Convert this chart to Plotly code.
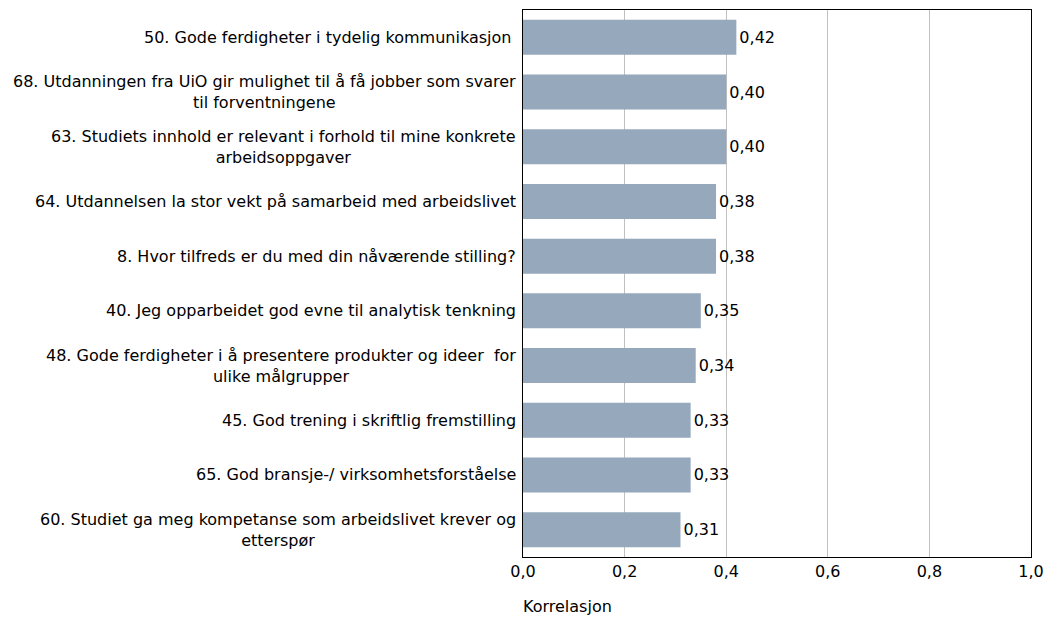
import plotly.graph_objects as go

# Survey items and their correlation coefficients
items = [
    "50. Gode ferdigheter i tydelig kommunikasjon\u00a0",
    "68. Utdanningen fra UiO gir mulighet til å få jobber som svarer<br>til forventningene",
    "63. Studiets innhold er relevant i forhold til mine konkrete<br>arbeidsoppgaver",
    "64. Utdannelsen la stor vekt på samarbeid med arbeidslivet",
    "8. Hvor tilfreds er du med din nåværende stilling?",
    "40. Jeg opparbeidet god evne til analytisk tenkning",
    "48. Gode ferdigheter i å presentere produkter og ideer\u00a0 for<br>ulike målgrupper",
    "45. God trening i skriftlig fremstilling",
    "65. God bransje-/ virksomhetsforståelse",
    "60. Studiet ga meg kompetanse som arbeidslivet krever og<br>etterspør",
]
correlations = [0.42, 0.40, 0.40, 0.38, 0.38, 0.35, 0.34, 0.33, 0.33, 0.31]
x_ticks = [0.0, 0.2, 0.4, 0.6, 0.8, 1.0]
x_title = "Korrelasjon"

FONT = "DejaVu Sans, Verdana, sans-serif"
SIZE = 16
positions = list(range(len(items)))

fig = go.Figure(
    go.Bar(
        x=correlations,
        y=positions,
        orientation="h",
        marker=dict(color="#95a8bc", line=dict(width=0)),
        texttemplate="%{x:.2f}",
        textposition="outside",
        textfont=dict(family=FONT, size=SIZE, color="#000000"),
        cliponaxis=False,
        hoverinfo="skip",
    )
)

# Item labels, right-aligned against the plot with centred wrapped lines
for pos, label in zip(positions, items):
    fig.add_annotation(
        x=0, xref="paper", y=pos, yref="y",
        text=label, showarrow=False,
        xanchor="right", yanchor="middle", align="center",
        xshift=-5,
        font=dict(family=FONT, size=SIZE, color="#000000"),
    )

fig.add_annotation(
    x=0, xref="paper", y=0, yref="paper",
    text=x_title, showarrow=False,
    xanchor="left", yanchor="middle",
    xshift=-2, yshift=-49,
    font=dict(family=FONT, size=SIZE, color="#000000"),
)

fig.update_layout(
    width=1047, height=617,
    margin=dict(l=523, r=16, t=10, b=60, autoexpand=False),
    paper_bgcolor="white", plot_bgcolor="white",
    separators=", ",
    bargap=0.36,
    showlegend=False,
    font=dict(family=FONT, size=SIZE, color="#000000"),
    xaxis=dict(
        range=[0, 1.0],
        tickvals=x_ticks,
        tickformat=".1f",
        automargin=False,
        showgrid=True, gridcolor="#c0c0c0", gridwidth=1,
        zeroline=False,
        showline=True, linecolor="#000000", linewidth=1, mirror=True,
        ticks="", ticklen=0,
        tickfont=dict(family=FONT, size=SIZE, color="#000000"),
    ),
    yaxis=dict(
        range=[len(items) - 0.5, -0.5],
        automargin=False,
        showticklabels=False,
        showgrid=False, zeroline=False,
        showline=True, linecolor="#000000", linewidth=1, mirror=True,
        ticks="",
    ),
)

fig.write_html("out.html")
